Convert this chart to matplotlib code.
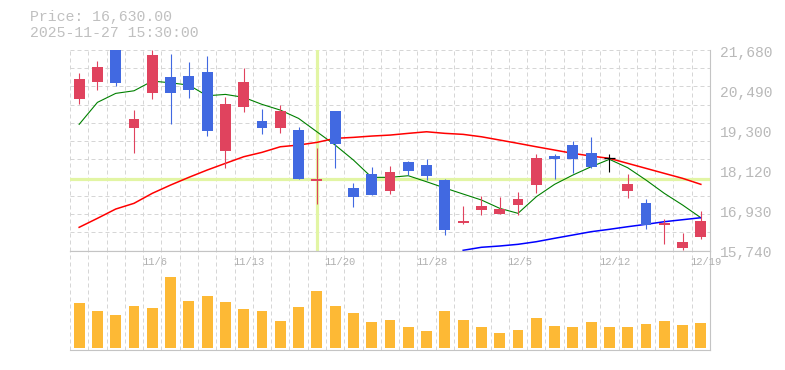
import matplotlib
matplotlib.use('Agg')
import matplotlib.pyplot as plt
import matplotlib.transforms as mtransforms
import numpy as np

# ---------------- data ----------------
dates = ['10/30', '10/31', '11/4', '11/5', '11/6', '11/7', '11/10', '11/11', '11/12', '11/13',
         '11/14', '11/17', '11/18', '11/19', '11/20', '11/21', '11/25', '11/26', '11/27', '11/28',
         '12/1', '12/2', '12/3', '12/4', '12/5', '12/8', '12/9', '12/10', '12/11', '12/12',
         '12/15', '12/16', '12/17', '12/18', '12/19']
opens = [20236, 20739, 21720, 19378, 20414, 20878, 20908, 21026, 18689, 20000,
         19577, 19378, 19310, 17811, 19872, 17595, 18009, 17515, 18364, 18275,
         17831, 16568, 16953, 16834, 17101, 17692, 18541, 18867, 18630, 18491,
         17515, 17151, 16500, 15820, 16154]
highs = [20996, 21351, 21760, 19902, 21680, 21558, 21321, 21499, 20287, 21144,
         19931, 20050, 19399, 18778, 19880, 17743, 18216, 18245, 18393, 18453,
         17860, 17053, 17349, 17329, 17476, 18600, 18600, 18976, 19103, 18600,
         18009, 17269, 16678, 16264, 16914]
lows = [20079, 20502, 20621, 18639, 20236, 19497, 20266, 19142, 18195, 19852,
        19201, 19230, 17850, 17130, 18195, 17042, 17379, 17426, 17988, 17840,
        16204, 16539, 16805, 16820, 16805, 17456, 17870, 18047, 18200, 18077,
        17308, 16373, 15947, 15760, 16095]
closes = [20819, 21174, 20709, 19636, 21529, 20414, 20502, 19290, 20079, 20730,
          19378, 19881, 17870, 17861, 18905, 17337, 17396, 18068, 18106, 17959,
          16361, 16619, 17053, 16974, 17269, 18482, 18461, 18461, 18225, 18491,
          17713, 16509, 16559, 15997, 16630]
volumes = [1350, 1110, 990, 1260, 1200, 2130, 1410, 1560, 1380, 1170,
           1110, 810, 1230, 1710, 1260, 1050, 780, 840, 630, 510,
           1110, 840, 630, 450, 540, 900, 660, 630, 780, 630,
           630, 720, 810, 690, 750]
ma5 = [19479, 20130, 20396, 20473, 20760, 20709, 20641, 20325, 20366, 20278,
       20071, 19902, 19656, 19260, 18867, 18423, 17911, 17911, 17959, 17781,
       17595, 17417, 17240, 16994, 16846, 17337, 17704, 17979, 18225, 18444,
       18195, 17831, 17438, 17092, 16716]
ma25 = [16432, 16698, 16973, 17142, 17438, 17683, 17911, 18127, 18325, 18521,
        18651, 18816, 18867, 18946, 19065, 19094, 19133, 19162, 19213, 19260,
        19213, 19183, 19112, 19015, 18917, 18816, 18719, 18621, 18541, 18473,
        18325, 18177, 18029, 17882, 17704]
ma75 = [np.nan] * 21 + [15752, 15841, 15879, 15929, 16006, 16107, 16204, 16302, 16373,
                        16450, 16521, 16598, 16657, 16716]
price_ticks = [15740, 16930, 18120, 19300, 20490, 21680]
price_range = (15740, 21680)
date_labels = ['11/6', '11/13', '11/20', '11/28', '12/5', '12/12', '12/19']
header_price = 'Price: 16,630.00'
header_time = '2025-11-27 15:30:00'
cross_idx = 13

# ---------------- style ----------------
UP = '#e0435e'
DOWN = '#4169e1'
GRID = '#d6d6d6'
SPINE = '#c4c4c4'
TXT = '#b9b9b9'
CROSS = '#e2f5a4'
VOLC = '#fdb935'
MONO = ['Liberation Mono', 'DejaVu Sans Mono']

W, H = 785, 370
fig = plt.figure(figsize=(W / 100, H / 100), dpi=100)
ax = fig.add_axes([70 / W, 1 - 250.7 / H, 640 / W, 200.7 / H])
axv = fig.add_axes([70 / W, 1 - 350 / H, 640 / W, 99.3 / H])

n = len(dates)
x = np.arange(n)
o = np.array(opens, float)
h = np.array(highs, float)
l = np.array(lows, float)
c = np.array(closes, float)

for a in (ax, axv):
    a.set_xlim(-0.5, n - 0.5)
    a.set_xticks([])
    a.set_yticks([])
    a.set_facecolor('white')
    for s in a.spines.values():
        s.set_color(SPINE)
        s.set_linewidth(0.8)
    a.spines['left'].set_visible(False)
    for gx in np.arange(-0.5, n - 0.4, 1.0):
        a.axvline(gx, color=GRID, lw=0.72, ls=(0, (4, 3)), zorder=0)

ax.spines['top'].set_visible(False)
ax.set_ylim(*price_range)
for gy in np.linspace(price_range[0], price_range[1], 12):
    ax.axhline(gy, color=GRID, lw=0.72, ls=(0, (4, 3)), zorder=0)

# crosshair
ax.axvline(cross_idx, ymin=0.005, ymax=0.995, color=CROSS, lw=2.3, zorder=1)
ax.axhline(c[cross_idx], color=CROSS, lw=2.3, zorder=1)

# moving averages
ax.plot(x, ma5, color='#008000', lw=0.8, zorder=2)
ax.plot(x, ma25, color='#ff0000', lw=1.1, zorder=2)
ax.plot(x, ma75, color='#0000ff', lw=1.1, zorder=2)

# candles
cols = [UP if cc > oo else (DOWN if cc < oo else 'black') for oo, cc in zip(o, c)]
ax.vlines(x, l, h, colors=cols, lw=0.8, zorder=3)
body_mask = c != o
ax.bar(x[body_mask], np.abs(c - o)[body_mask], bottom=np.minimum(o, c)[body_mask],
       width=0.6, color=[cols[i] for i in x[body_mask]], lw=0, zorder=4)
doji = ~body_mask
ax.hlines(c[doji], x[doji] - 0.3, x[doji] + 0.3, colors='black', lw=0.9, zorder=4)

# price labels
for v in price_ticks:
    ax.annotate(f'{v:,}', xy=(1, v), xycoords=('axes fraction', 'data'),
                xytext=(7.4, -1.9), textcoords='offset points', ha='left', va='center',
                fontsize=10.5, family=MONO, color=TXT, annotation_clip=False)

# volume
axv.set_ylim(-60, 2920)
axv.bar(x, volumes, width=0.6, color=VOLC, lw=0, zorder=2)
tr = mtransforms.blended_transform_factory(axv.transData, axv.transAxes)
for lbl in date_labels:
    i = dates.index(lbl)
    axv.text(i - 0.57, 0.885, lbl, transform=tr, ha='left', va='center',
             fontsize=7.6, family=MONO, color='#b0b0b0', zorder=3, clip_on=False)

# header
fig.text(30 / W, 1 - 17.3 / H, header_price, ha='left', va='center',
         fontsize=10.7, family=MONO, color='#c0c0c0')
fig.text(30 / W, 1 - 33.3 / H, header_time, ha='left', va='center',
         fontsize=10.7, family=MONO, color='#c0c0c0')

fig.savefig('out.png', dpi=100, facecolor='white')
